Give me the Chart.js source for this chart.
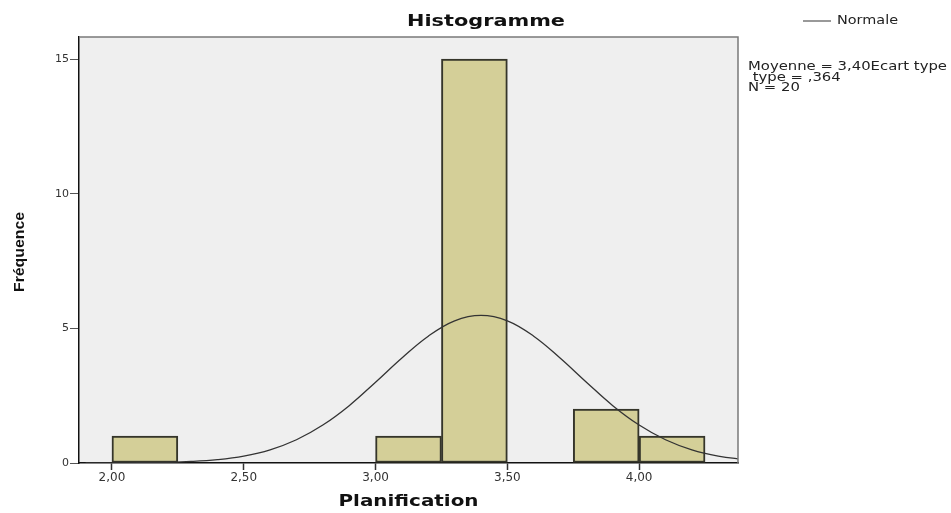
<!DOCTYPE html>
<html>
<head>
<meta charset="utf-8">
<script src="https://cdn.jsdelivr.net/npm/chart.js@4.4.0/dist/chart.umd.min.js"></script>
<style>
  html, body { margin: 0; padding: 0; background: #ffffff; }
  #wrap { width: 951px; height: 513px; }
</style>
</head>
<body>
<div id="wrap"><canvas id="myChart" width="951" height="513"></canvas></div>
<script>
// histogram bins (width 0.25) and counts
const binCenters = [2.125, 3.125, 3.375, 3.875, 4.125];
const binCounts = [1, 1, 15, 2, 1];

// normal curve
const curveX = [1.9, 2.0, 2.1, 2.2, 2.3, 2.4, 2.5, 2.6, 2.7, 2.8, 2.9, 3.0, 3.1, 3.2, 3.3, 3.4, 3.5, 3.6, 3.7, 3.8, 3.9, 4.0, 4.1, 4.2, 4.3, 4.4];
const curveY = [0.001, 0.003, 0.009, 0.024, 0.057, 0.126, 0.258, 0.49, 0.863, 1.41, 2.13, 3.0, 3.9, 4.71, 5.28, 5.48, 5.28, 4.71, 3.9, 3.0, 2.13, 1.41, 0.863, 0.49, 0.258, 0.126];

const xTickValues = [2.0, 2.5, 3.0, 3.5, 4.0];
const xTickLabels = ['2,00', '2,50', '3,00', '3,50', '4,00'];
const yTickValues = [0, 5, 10, 15];

const statLines = ['Moyenne = 3,40Ecart type', ' type = ,364', 'N = 20'];

// draw text stretched to a given width (the original fonts are wide)
function drawFit(ctx, text, x, y, font, width, align, angle) {
    ctx.save();
    ctx.font = font;
    const s = width / ctx.measureText(text).width;
    ctx.translate(x, y);
    if (angle) ctx.rotate(angle);
    ctx.scale(s, 1);
    ctx.textAlign = align;
    ctx.textBaseline = 'middle';
    ctx.fillText(text, 0, 0);
    ctx.restore();
    return s;
}

const decorPlugin = {
    id: 'decor',
    beforeDraw(chart) {
        const { ctx, chartArea: a } = chart;
        ctx.save();
        ctx.fillStyle = '#efefef';
        ctx.fillRect(a.left, a.top, a.right - a.left, a.bottom - a.top);
        ctx.restore();
    },
    afterDraw(chart) {
        const { ctx, chartArea: a } = chart;
        ctx.save();
        // top and right frame
        ctx.strokeStyle = '#7a7a7a';
        ctx.lineWidth = 1.5;
        ctx.beginPath();
        ctx.moveTo(a.left, a.top);
        ctx.lineTo(a.right, a.top);
        ctx.lineTo(a.right, a.bottom);
        ctx.stroke();

        ctx.fillStyle = '#111';
        const bold = 'bold 16px "DejaVu Sans", Verdana, sans-serif';
        drawFit(ctx, 'Histogramme', 486, 22, bold, 158, 'center');
        drawFit(ctx, 'Planification', (a.left + a.right) / 2, 502, bold, 140, 'center');
        drawFit(ctx, 'Fréquence', 20, 252, 'bold 15px "Liberation Sans", Arial, sans-serif', 80, 'center', -Math.PI / 2);

        // legend
        ctx.strokeStyle = '#999';
        ctx.lineWidth = 2;
        ctx.beginPath();
        ctx.moveTo(803, 21);
        ctx.lineTo(831, 21);
        ctx.stroke();
        ctx.fillStyle = '#222';
        const reg = '12px "DejaVu Sans", Verdana, sans-serif';
        drawFit(ctx, 'Normale', 837, 21, reg, 61, 'left');

        // stats
        ctx.font = reg;
        const k = 199 / ctx.measureText(statLines[0]).width;
        statLines.forEach((s, i) => {
            ctx.save();
            ctx.font = reg;
            drawFit(ctx, s, 748, 67 + i * 10.5, reg, ctx.measureText(s).width * k, 'left');
            ctx.restore();
        });
        ctx.restore();
    }
};

const ctx = document.getElementById('myChart').getContext('2d');
new Chart(ctx, {
    type: 'bar',
    data: {
        datasets: [
            {
                type: 'line',
                label: 'Normale',
                data: curveX.map((x, i) => ({ x: x, y: curveY[i] })),
                borderColor: '#333',
                borderWidth: 1.3,
                pointRadius: 0,
                tension: 0.4,
                fill: false,
                order: 0
            },
            {
                label: 'Fréquence',
                data: binCenters.map((x, i) => ({ x: x, y: binCounts[i] })),
                backgroundColor: '#d4cf98',
                borderColor: '#35352a',
                borderWidth: 2,
                borderSkipped: false,
                categoryPercentage: 1,
                barPercentage: 1,
                order: 1
            }
        ]
    },
    options: {
        responsive: false,
        animation: false,
        layout: { padding: { left: 0, right: 213, top: 37, bottom: 0 } },
        plugins: {
            legend: { display: false },
            tooltip: { enabled: false }
        },
        scales: {
            x: {
                type: 'linear',
                min: 1.875,
                max: 4.375,
                offset: false,
                afterBuildTicks: (s) => { s.ticks = xTickValues.map(v => ({ value: v })); },
                afterFit: (s) => { s.height = 50; },
                grid: { offset: false, drawOnChartArea: false, color: '#333', tickLength: 7, tickWidth: 1.5 },
                border: { color: '#111', width: 1.5 },
                ticks: {
                    color: '#333',
                    font: { family: '"DejaVu Sans", Verdana, sans-serif', size: 12 },
                    padding: 1,
                    maxRotation: 0,
                    callback: (v) => xTickLabels[xTickValues.indexOf(v)] || ''
                }
            },
            y: {
                min: 0,
                max: 15.82,
                afterBuildTicks: (s) => { s.ticks = yTickValues.map(v => ({ value: v })); },
                afterFit: (s) => { s.width = 79; },
                grid: { drawOnChartArea: false, color: '#555', tickLength: 9, tickWidth: 1 },
                border: { color: '#111', width: 1.5 },
                ticks: {
                    color: '#333',
                    font: { family: '"DejaVu Sans", Verdana, sans-serif', size: 11 },
                    padding: 1
                }
            }
        }
    },
    plugins: [decorPlugin]
});
</script>
</body>
</html>
